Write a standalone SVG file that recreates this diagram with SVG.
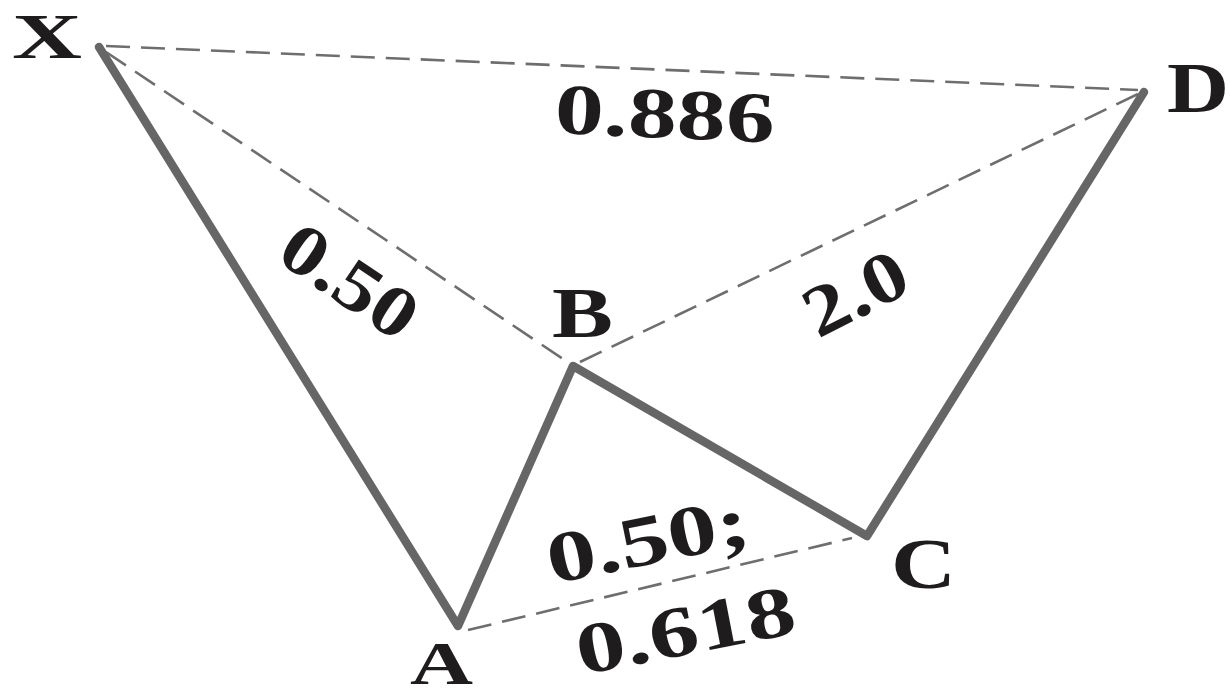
<svg xmlns="http://www.w3.org/2000/svg" width="1230" height="698" viewBox="0 0 1230 698">
<style>
.bg{fill:#ffffff}
.leg{fill:none;stroke:#666666;stroke-width:8.5;stroke-linejoin:round;stroke-linecap:round}
.ratio{fill:none;stroke:#6e6e6e;stroke-width:2.6;stroke-dasharray:24 11}
.lbl{font-family:"Liberation Serif","Times New Roman",serif;font-weight:bold;font-size:72px;fill:#1f1c1d}
.ptx{font-size:64px}
.pta{font-size:62px}
</style>
<rect class="bg" x="0" y="0" width="1230" height="698"/>
<g id="connectors">
<line class="ratio" x1="106" y1="46" x2="1138" y2="90"/>
<line class="ratio" x1="106" y1="52" x2="566" y2="361"/>
<line class="ratio" x1="580" y1="362" x2="1138" y2="94"/>
<line class="ratio" x1="468" y1="630" x2="852" y2="538"/>
<polyline class="leg" points="99,47 458,626 573,366 867,536 1144,92"/>
</g>
<g id="node-X"><text class="lbl ptx" x="12" y="58" textLength="70" lengthAdjust="spacingAndGlyphs">X</text></g>
<g id="node-D"><text class="lbl" x="1167" y="112" textLength="62" lengthAdjust="spacingAndGlyphs">D</text></g>
<g id="node-B"><text class="lbl" x="552" y="337" textLength="61" lengthAdjust="spacingAndGlyphs">B</text></g>
<g id="node-A"><text class="lbl pta" x="410" y="684" textLength="63" lengthAdjust="spacingAndGlyphs">A</text></g>
<g id="node-C"><text class="lbl" x="891" y="588" textLength="65" lengthAdjust="spacingAndGlyphs">C</text></g>
<g id="label-XD"><text class="lbl" transform="translate(554,133) rotate(2.5)" textLength="220" lengthAdjust="spacingAndGlyphs">0.886</text></g>
<g id="label-XB"><text class="lbl" transform="translate(274,259) rotate(34)" textLength="150" lengthAdjust="spacingAndGlyphs">0.50</text></g>
<g id="label-BD"><text class="lbl" transform="translate(818,339) rotate(-27)" textLength="108" lengthAdjust="spacingAndGlyphs">2.0</text></g>
<g id="label-AC1"><text class="lbl" transform="translate(552,584) rotate(-11.5)" textLength="205" lengthAdjust="spacingAndGlyphs">0.50;</text></g>
<g id="label-AC2"><text class="lbl" transform="translate(581,675) rotate(-11)" textLength="222" lengthAdjust="spacingAndGlyphs">0.618</text></g>
</svg>
